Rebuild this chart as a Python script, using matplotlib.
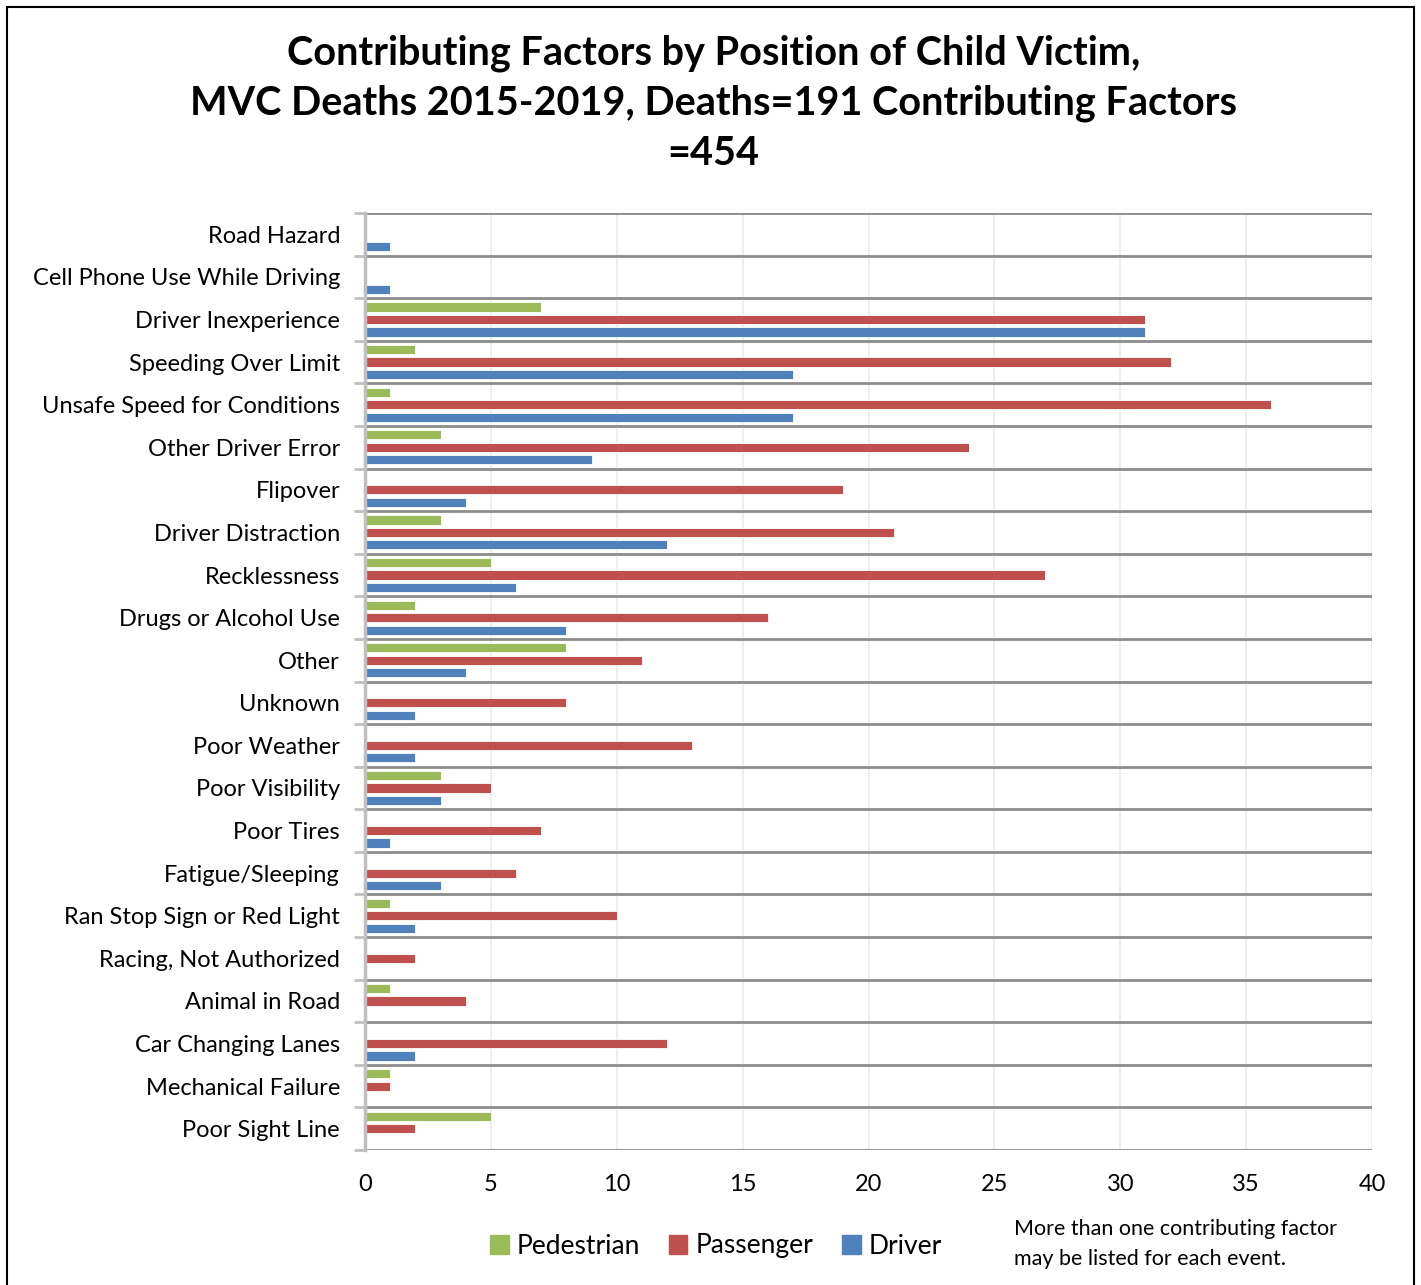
import matplotlib
matplotlib.use("Agg")
import matplotlib.pyplot as plt
import matplotlib.patches as mpatches
import numpy as np

plt.rcParams['font.family'] = ['Lato', 'DejaVu Sans']

# Data
categories = [
    "Road Hazard", "Cell Phone Use While Driving", "Driver Inexperience",
    "Speeding Over Limit", "Unsafe Speed for Conditions", "Other Driver Error",
    "Flipover", "Driver Distraction", "Recklessness", "Drugs or Alcohol Use",
    "Other", "Unknown", "Poor Weather", "Poor Visibility", "Poor Tires",
    "Fatigue/Sleeping", "Ran Stop Sign or Red Light", "Racing, Not Authorized",
    "Animal in Road", "Car Changing Lanes", "Mechanical Failure", "Poor Sight Line",
]
pedestrian = [0, 0, 7, 2, 1, 3, 0, 3, 5, 2, 8, 0, 0, 3, 0, 0, 1, 0, 1, 0, 1, 5]
passenger = [0, 0, 31, 32, 36, 24, 19, 21, 27, 16, 11, 8, 13, 5, 7, 6, 10, 2, 4, 12, 1, 2]
driver = [1, 1, 31, 17, 17, 9, 4, 12, 6, 8, 4, 2, 2, 3, 1, 3, 2, 0, 0, 2, 0, 0]

series = [("Pedestrian", pedestrian, '#9bbb59'),
          ("Passenger", passenger, '#c0504d'),
          ("Driver", driver, '#4f81bd')]

W, H = 1421, 1285
fig = plt.figure(figsize=(W / 100, H / 100), dpi=100)
ax = fig.add_axes([365 / W, 1 - 1150 / H, (1372 - 365) / W, (1150 - 213) / H])

y = np.arange(len(categories))
offsets = [-0.293, 0.0, 0.293]
bar_h = 0.215
for (name, vals, col), off in zip(series, offsets):
    ax.barh(y + off, vals, height=bar_h, color=col, edgecolor='white',
            linewidth=0.6, label=name, zorder=3)

ax.set_xlim(0, 40)
ax.set_ylim(len(categories) - 0.5, -0.5)

# vertical gridlines
for xv in range(5, 41, 5):
    ax.axvline(xv, color='#ebebeb', linewidth=1.2, zorder=1)

# horizontal separators between categories
for b in np.arange(-0.5, len(categories), 1.0):
    ax.axhline(b, color='#8c8c8c', linewidth=2.0, zorder=2)

ax.set_yticks(np.arange(-0.5, len(categories), 1.0))
ax.set_yticklabels([])
ax.tick_params(axis='y', which='major', length=8, width=2.0, color='#bfbfbf')
ax.set_yticks(y, minor=True)
ax.set_yticklabels(categories, minor=True, fontsize=17)
ax.tick_params(axis='y', which='minor', length=0, pad=18)

ax.set_xticks(range(0, 41, 5))
ax.tick_params(axis='x', length=0, labelsize=17, pad=17)

for s in ['top', 'right', 'bottom']:
    ax.spines[s].set_visible(False)
ax.spines['left'].set_color('#bfbfbf')
ax.spines['left'].set_linewidth(2.5)
ax.spines['left'].set_zorder(4)

fig.text(0.502, 1 - 103 / H,
         "Contributing Factors by Position of Child Victim,\n"
         "MVC Deaths 2015-2019, Deaths=191 Contributing Factors\n=454",
         ha='center', va='center', fontsize=28.5, fontweight='bold',
         linespacing=1.42)

handles = [mpatches.Patch(color=c, label=n) for n, _, c in series]
fig.legend(handles=handles, loc='center', bbox_to_anchor=(716 / W, 1 - 1246 / H),
           ncol=3, frameon=False, fontsize=19, handlelength=0.7,
           handleheight=0.7, handletextpad=0.3, columnspacing=1.1)

fig.text(1014 / W, 1 - 1244 / H,
         "More than one contributing factor\nmay be listed for each event.",
         ha='left', va='center', fontsize=15.5, linespacing=1.6)

fig.patches.append(mpatches.Rectangle((7 / W, -0.02), (1414 - 7) / W, 1.02 - 7 / H,
                                      transform=fig.transFigure, fill=False,
                                      edgecolor='black', linewidth=1.5))

fig.savefig("out.png", dpi=100, facecolor='white')
